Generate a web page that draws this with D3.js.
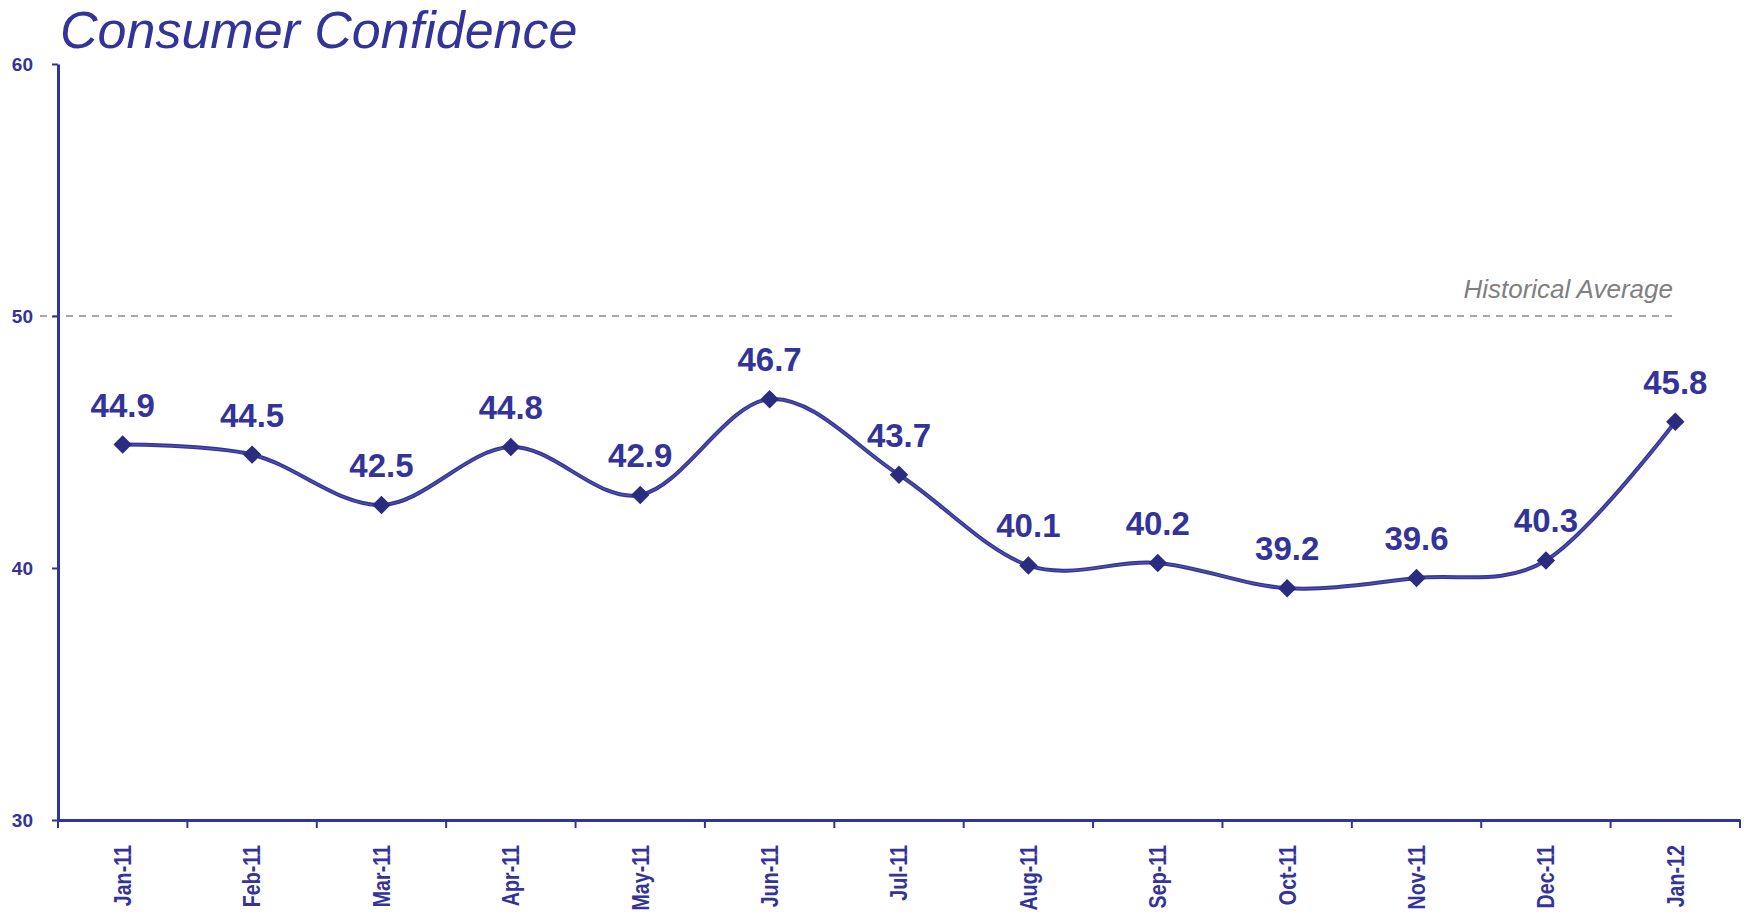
<!DOCTYPE html>
<html>
<head>
<meta charset="utf-8">
<script src="https://cdn.jsdelivr.net/npm/d3@7"></script>
<style>
  body { margin: 0; background: #fff; }
  svg { display: block; font-family: "Liberation Sans", Arial, sans-serif; }
</style>
</head>
<body>
<svg id="chart" width="1744" height="916"></svg>
<script>
const months = ["Jan-11", "Feb-11", "Mar-11", "Apr-11", "May-11", "Jun-11", "Jul-11",
                "Aug-11", "Sep-11", "Oct-11", "Nov-11", "Dec-11", "Jan-12"];
const confidence = [44.9, 44.5, 42.5, 44.8, 42.9, 46.7, 43.7, 40.1, 40.2, 39.2, 39.6, 40.3, 45.8];
const yTicks = [30, 40, 50, 60];
const historicalAvg = 50;

const navy = "#333399";
const svg = d3.select("#chart");

let x = d3.scaleBand().domain(months).range([58, 1740]);
let y = d3.scaleLinear().domain([30, 60]).range([820, 64]);

// title
svg.append("text")
    .attr("x", 60)
    .attr("y", 48)
    .attr("fill", navy)
    .attr("font-size", 52)
    .attr("font-style", "italic")
    .text("Consumer Confidence");

// historical average
svg.append("line")
    .attr("x1", 40)
    .attr("x2", 1673)
    .attr("y1", y(historicalAvg))
    .attr("y2", y(historicalAvg))
    .attr("stroke", "#8a8a8a")
    .attr("stroke-width", 1.6)
    .attr("stroke-dasharray", "7,6");

svg.append("text")
    .attr("x", 1673)
    .attr("y", y(historicalAvg) - 18)
    .attr("text-anchor", "end")
    .attr("fill", "#808080")
    .attr("font-size", 26)
    .attr("font-style", "italic")
    .text("Historical Average");

// y axis
let yAxis = svg.append("g")
    .attr("transform", "translate(58,0)")
    .call(d3.axisLeft(y).tickValues(yTicks).tickSize(6).tickSizeOuter(0).tickPadding(19));
yAxis.select(".domain").attr("stroke", navy).attr("stroke-width", 3);
yAxis.selectAll(".tick line").attr("stroke", navy).attr("stroke-width", 2);
yAxis.selectAll(".tick text")
    .attr("fill", navy)
    .attr("font-size", 19)
    .attr("font-weight", "bold")
    .attr("font-family", "'Liberation Sans', Arial, sans-serif");

// x axis
let xAxis = svg.append("g")
    .attr("transform", "translate(0,820)")
    .call(d3.axisBottom(x).tickSize(0).tickSizeOuter(0));
xAxis.select(".domain").attr("stroke", navy).attr("stroke-width", 3);
xAxis.selectAll(".tick text")
    .attr("fill", navy)
    .attr("font-size", 24)
    .attr("font-weight", "bold")
    .attr("font-family", "'Liberation Sans', Arial, sans-serif")
    .attr("text-anchor", "end")
    .attr("dy", "0.35em")
    .attr("y", 0)
    .attr("transform", "translate(0,25) rotate(-90) scale(0.82,1)");

let edges = months.map(m => x(m)).concat([x.range()[1]]);
xAxis.selectAll(".edge")
    .data(edges)
    .enter()
    .append("line")
    .attr("class", "edge")
    .attr("x1", d => d)
    .attr("x2", d => d)
    .attr("y1", 0)
    .attr("y2", 8)
    .attr("stroke", navy)
    .attr("stroke-width", 2);

// series
let pts = months.map((m, i) => ({ m: m, v: confidence[i] }));
let cx = d => x(d.m) + x.bandwidth() / 2;

let Line = d3.line()
    .x(cx)
    .y(d => y(d.v))
    .curve(d3.curveCardinal.tension(0));

svg.append("path")
    .attr("d", Line(pts))
    .attr("fill", "none")
    .attr("stroke", navy)
    .attr("stroke-width", 4);

svg.append("path")
    .attr("d", Line(pts))
    .attr("fill", "none")
    .attr("stroke", "#6a6ab8")
    .attr("stroke-width", 1.2)
    .attr("opacity", 0.6);

svg.selectAll(".marker")
    .data(pts)
    .enter()
    .append("path")
    .attr("class", "marker")
    .attr("d", d3.symbol(d3.symbolSquare, 170))
    .attr("transform", d => "translate(" + cx(d) + "," + y(d.v) + ") rotate(45)")
    .attr("fill", "#2b2b80");

svg.selectAll(".lbl")
    .data(pts)
    .enter()
    .append("text")
    .attr("class", "lbl")
    .attr("x", cx)
    .attr("y", d => y(d.v) - 28)
    .attr("text-anchor", "middle")
    .attr("fill", navy)
    .attr("font-size", 33)
    .attr("font-weight", "bold")
    .text(d => d.v.toFixed(1));
</script>
</body>
</html>
